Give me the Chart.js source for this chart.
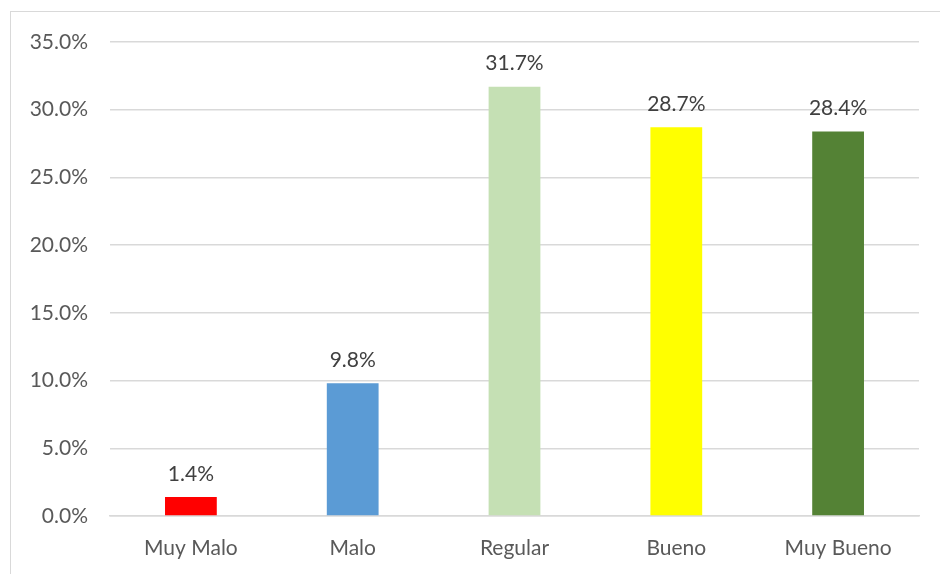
<!DOCTYPE html>
<html>
<head>
<meta charset="utf-8">
<script src="https://cdn.jsdelivr.net/npm/chart.js@4/dist/chart.umd.min.js"></script>
<style>
  html, body { margin: 0; padding: 0; background: #fff; }
  #wrap { position: relative; width: 940px; height: 574px; }
  #frame { position: absolute; left: 10px; top: 11px; width: 940px; height: 600px;
           border: 1px solid #d9d9d9; box-sizing: border-box; }
  canvas { position: absolute; left: 0; top: 0; }
</style>
</head>
<body>
<div id="wrap">
  <div id="frame"></div>
  <canvas id="chart" width="940" height="574"></canvas>
</div>
<script>
// categorias y valores (porcentaje)
var categories = ['Muy Malo', 'Malo', 'Regular', 'Bueno', 'Muy Bueno'];
var values = [1.4, 9.8, 31.7, 28.7, 28.4];
var barColors = ['#FF0000', '#5B9BD5', '#C5E0B4', '#FFFF00', '#548235'];
var yTicks = [0, 5, 10, 15, 20, 25, 30, 35];

var FONT = 'Lato, "Open Sans", sans-serif';

// etiquetas encima de las barras
var valueLabels = {
    id: 'valueLabels',
    afterDatasetsDraw: function (chart) {
        var ctx = chart.ctx;
        var meta = chart.getDatasetMeta(0);
        ctx.save();
        ctx.font = '21px ' + FONT;
        ctx.fillStyle = '#404040';
        ctx.textAlign = 'center';
        ctx.textBaseline = 'middle';
        meta.data.forEach(function (bar, i) {
            ctx.fillText(values[i].toFixed(1) + '%', bar.x, bar.y - 23);
        });
        ctx.restore();
    }
};

new Chart(document.getElementById('chart'), {
    type: 'bar',
    data: {
        labels: categories,
        datasets: [{
            data: values,
            backgroundColor: barColors,
            barPercentage: 0.32,
            categoryPercentage: 1.0
        }]
    },
    options: {
        responsive: false,
        animation: false,
        layout: { padding: { top: 42, right: 21, bottom: 0, left: 0 } },
        plugins: { legend: { display: false }, tooltip: { enabled: false } },
        scales: {
            x: {
                grid: { display: false, drawTicks: false },
                border: { color: '#d9d9d9', width: 1.5 },
                ticks: { color: '#595959', font: { family: FONT, size: 21 }, padding: 20 },
                afterFit: function (s) { s.height = 58; }
            },
            y: {
                min: 0, max: 35,
                afterBuildTicks: function (s) { s.ticks = yTicks.map(function (v) { return { value: v }; }); },
                grid: { color: '#d9d9d9', lineWidth: 1.5, drawTicks: false },
                border: { display: false },
                ticks: {
                    color: '#595959', font: { family: FONT, size: 21 }, padding: 22,
                    callback: function (v) { return v.toFixed(1) + '%'; }
                },
                afterFit: function (s) { s.width = 110; }
            }
        }
    },
    plugins: [valueLabels]
});
</script>
</body>
</html>
